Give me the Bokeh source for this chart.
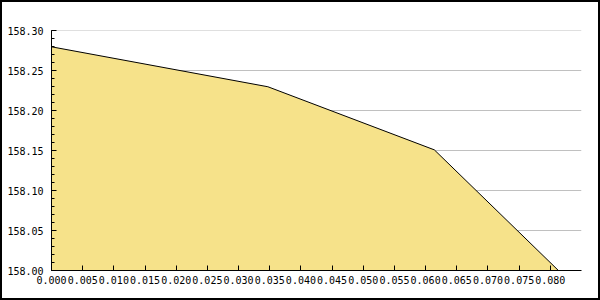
from bokeh.plotting import figure
from bokeh.embed import file_html
from bokeh.resources import INLINE
from bokeh.models import FixedTicker, PrintfTickFormatter, Range1d

x_vals = [0.0, 0.0347, 0.0614, 0.0813]
y_vals = [158.28, 158.23, 158.151, 158.0]
y_base = 158.0
x_ticks = [round(i * 0.005, 3) for i in range(17)]
y_ticks = [158.00, 158.05, 158.10, 158.15, 158.20, 158.25, 158.30]

p = figure(width=596, height=296, output_backend="svg", toolbar_location=None,
           x_range=Range1d(0, 0.085), y_range=Range1d(158.0, 158.3004),
           min_border_left=49, min_border_right=21, min_border_top=28, min_border_bottom=32)
p.styles = {"border": "2px solid black", "box-sizing": "content-box"}
p.outline_line_color = None
p.background_fill_color = "white"
p.border_fill_color = "white"

p.varea(x=x_vals, y1=[y_base] * len(x_vals), y2=y_vals, fill_color="#F6E28A")
p.line(x=x_vals, y=y_vals, line_color="black", line_width=1)

p.xgrid.visible = False
p.ygrid.ticker = FixedTicker(ticks=y_ticks)
p.ygrid.grid_line_color = "#c0c0c0"
p.ygrid.level = "underlay"

p.xaxis.ticker = FixedTicker(ticks=x_ticks)
p.xaxis.formatter = PrintfTickFormatter(format="%.3f")
p.yaxis.ticker = FixedTicker(ticks=y_ticks, minor_ticks=[round(158.0 + i * 0.01, 2) for i in range(31)])
p.yaxis.formatter = PrintfTickFormatter(format="%.2f")

for ax in (p.xaxis, p.yaxis):
    ax.axis_line_color = "black"
    ax.major_tick_in = 5
    ax.major_tick_out = 0
    ax.minor_tick_in = 3
    ax.minor_tick_out = 0
    ax.major_label_text_font = "DejaVu Sans Mono"
    ax.major_label_text_font_size = "10px"
    ax.major_label_text_color = "black"
p.xaxis.minor_tick_line_color = None
p.xaxis.major_label_standoff = 5
p.yaxis.major_label_standoff = 8

open("out.html", "w").write(file_html(p, INLINE))
